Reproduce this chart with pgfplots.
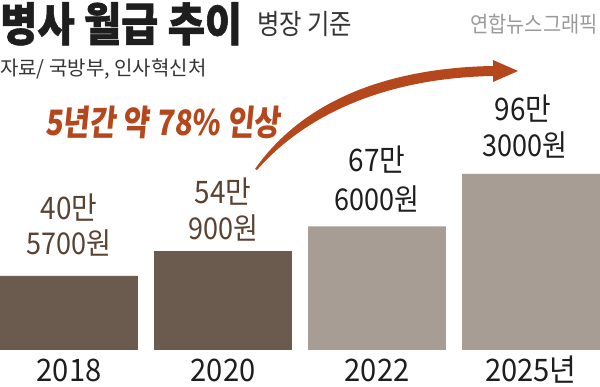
\documentclass[border=0pt]{standalone}
\usepackage{fontspec}
\usepackage{pgfplots}
\pgfplotsset{compat=1.18}
\setmainfont{Noto Sans CJK KR}
\newfontfamily\ftitle[FakeStretch=0.88,FakeBold=1.2]{Noto Sans CJK KR}
\newfontfamily\fsub[FakeStretch=0.87]{Noto Sans CJK KR}
\newfontfamily\fsrc[FakeStretch=1.0]{Noto Sans CJK KR}
\newfontfamily\fyh[FakeStretch=0.90]{Noto Sans CJK KR}
\newfontfamily\forange[FakeStretch=0.83,FakeSlant=0.10]{Noto Sans CJK KR}
\newfontfamily\flab[FakeStretch=0.90]{Noto Sans CJK KR}
\newfontfamily\fyear[FakeStretch=0.94]{Noto Sans CJK KR}
\definecolor{bardark}{HTML}{6A5B4E}
\definecolor{barlight}{HTML}{A89D94}
\definecolor{labbrown}{HTML}{5A4232}
\definecolor{labblack}{HTML}{1E1E1E}
\definecolor{arroworange}{HTML}{B5471C}
\definecolor{greytxt}{HTML}{9A9A9A}
\newcommand\PX[2]{({#1*1pt},{(350-#2)*1pt})}
\begin{document}
\begin{tikzpicture}
\path[use as bounding box] (0,-37pt) rectangle (600pt,350pt);
\begin{axis}[at={(0,0)}, anchor=south west, scale only axis,
  width=600pt, height=350pt,
  xmin=-0.448, xmax=3.448, ymin=0, ymax=191.3,
  axis lines=none, ybar, bar width=0.896, clip=false]
\addplot[fill=bardark, draw=none, bar shift=0pt] coordinates {(0,40.57) (1,54.09)};
\addplot[fill=barlight, draw=none, bar shift=0pt] coordinates {(2,67.6) (3,96.3)};
\end{axis}
% titles
\node[anchor=base west, inner sep=0, text=labblack] at \PX{0}{41} {\ftitle\fontsize{46}{46}\selectfont\bfseries 병사 월급 추이};
\node[anchor=base west, inner sep=0, text=labblack!90] at \PX{257}{35} {\fsub\fontsize{28}{28}\selectfont 병장 기준};
\node[anchor=base east, inner sep=0, text=greytxt] at \PX{598}{33} {\fyh\fontsize{22}{22}\selectfont 연합뉴스그래픽};
\node[anchor=base west, inner sep=0, text=labblack!90] at \PX{0}{76} {\fsrc\fontsize{20}{20}\selectfont 자료/ 국방부, 인사혁신처};
\node[anchor=base west, inner sep=0, text=arroworange] at \PX{45}{136} {\forange\fontsize{35}{35}\selectfont\bfseries 5년간 약 78\% 인상};
% arrow
\fill[arroworange] \PX{255}{169} .. controls \PX{300}{105} and \PX{380}{68} .. \PX{493}{66}
  -- \PX{493}{60} -- \PX{518}{71} -- \PX{493}{82} -- \PX{493}{76}
  .. controls \PX{385}{78} and \PX{305}{115} .. \PX{257}{170} -- cycle;
% bar labels
\node[anchor=base, inner sep=0, text=labbrown] at \PX{69}{220} {\flab\fontsize{31}{31}\selectfont 40만};
\node[anchor=base, inner sep=0, text=labbrown] at \PX{69}{255} {\flab\fontsize{30}{30}\selectfont 5700원};
\node[anchor=base, inner sep=0, text=labbrown] at \PX{223}{204} {\flab\fontsize{31}{31}\selectfont 54만};
\node[anchor=base, inner sep=0, text=labbrown] at \PX{223}{240} {\flab\fontsize{30}{30}\selectfont 900원};
\node[anchor=base, inner sep=0, text=labblack] at \PX{377}{172} {\flab\fontsize{31}{31}\selectfont 67만};
\node[anchor=base, inner sep=0, text=labblack] at \PX{377}{211} {\flab\fontsize{30}{30}\selectfont 6000원};
\node[anchor=base, inner sep=0, text=labblack] at \PX{523}{121} {\flab\fontsize{31}{31}\selectfont 96만};
\node[anchor=base, inner sep=0, text=labblack] at \PX{525}{157} {\flab\fontsize{30}{30}\selectfont 3000원};
% year labels
\node[anchor=base, inner sep=0, text=labblack] at \PX{69}{382} {\fyear\fontsize{31}{31}\selectfont 2018};
\node[anchor=base, inner sep=0, text=labblack] at \PX{223}{382} {\fyear\fontsize{31}{31}\selectfont 2020};
\node[anchor=base, inner sep=0, text=labblack] at \PX{377}{382} {\fyear\fontsize{31}{31}\selectfont 2022};
\node[anchor=base, inner sep=0, text=labblack] at \PX{531}{382} {\fyear\fontsize{31}{31}\selectfont 2025년};
\end{tikzpicture}
\end{document}
